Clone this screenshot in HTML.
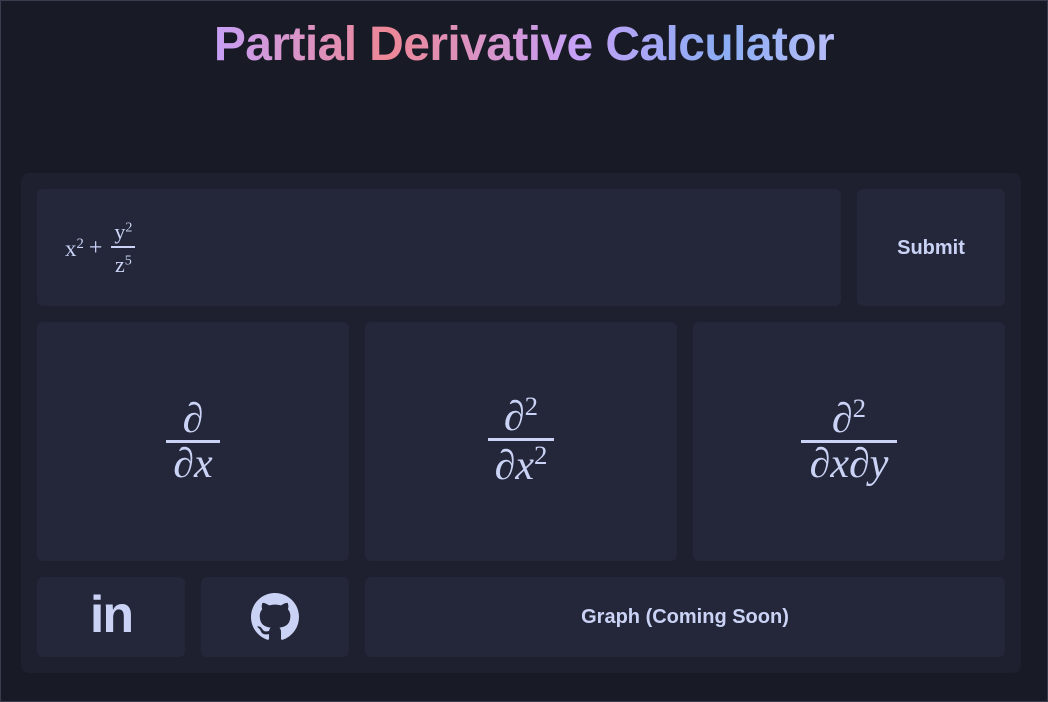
<!DOCTYPE html>
<html><head><meta charset="utf-8"><style>
html,body{margin:0;padding:0}
body{width:1048px;height:702px;background:#181a26;position:relative;overflow:hidden;font-family:"Liberation Sans",sans-serif;color:#cad3f5}
.frame{position:absolute;left:0;top:0;width:1046px;height:700px;border:1px solid #3a3d4d;box-sizing:content-box}
h1{position:absolute;left:0;width:1048px;top:17px;margin:0;text-align:center;font-size:48px;font-weight:bold;line-height:56px;letter-spacing:-0.6px}
h1 span{background:linear-gradient(90deg,#c6a0f6 0%,#ed8796 28%,#c6a0f6 58%,#8aadf4 82%,#b7bdf8 100%);-webkit-background-clip:text;background-clip:text;color:transparent}
.panel{position:absolute;left:21px;top:173px;width:1000px;height:500px;background:#1e2030;border-radius:8px}
.cell{position:absolute;background:#24273a;border-radius:6px;display:flex;align-items:center;justify-content:center}
.m{font-family:"Liberation Serif",serif}
.i{font-style:italic}
.frac{display:inline-flex;flex-direction:column;align-items:center}
.frac .n,.frac .d{padding:0 7px;line-height:1}
.frac .bar{align-self:stretch;height:3px;background:#cad3f5}
sup{font-size:64%;vertical-align:0.55em;line-height:0}
.btn{font-weight:bold;font-size:20px}
</style></head><body>
<div class="frame"></div>
<h1><span>Partial Derivative Calculator</span></h1>
<div class="panel"></div>
<div class="cell" style="left:37px;top:189px;width:804px;height:117px;justify-content:flex-start">
 <div class="m" style="margin-left:28px;font-size:23px;display:flex;align-items:center;margin-top:2px">
  <span>x<sup>2</sup></span><span style="margin:0 9px 0 5px;font-size:24px">+</span>
  <span class="frac" style="font-size:22px"><span class="n" style="padding:0 3px">y<sup>2</sup></span><span class="bar" style="height:1.5px;margin-top:3px"></span><span class="n" style="margin-top:6px;padding:0 3px">z<sup>5</sup></span></span>
 </div>
</div>
<div class="cell btn" style="left:857px;top:189px;width:148px;height:117px"><span style="margin-top:2px">Submit</span></div>
<div class="cell" style="left:37px;top:322px;width:312px;height:239px">
 <span class="frac m i" style="font-size:42px"><span class="n">∂</span><span class="bar"></span><span class="d">∂x</span></span>
</div>
<div class="cell" style="left:365px;top:322px;width:312px;height:239px">
 <span class="frac m i" style="font-size:42px"><span class="n">∂<sup style="font-style:normal">2</sup></span><span class="bar"></span><span class="d" style="margin-top:4px">∂x<sup style="font-style:normal">2</sup></span></span>
</div>
<div class="cell" style="left:693px;top:322px;width:312px;height:239px">
 <span class="frac m i" style="font-size:42px"><span class="n">∂<sup style="font-style:normal">2</sup></span><span class="bar"></span><span class="d" style="padding:0 9px">∂x∂y</span></span>
</div>
<div class="cell" style="left:37px;top:577px;width:148px;height:80px">
 <span style="font-weight:bold;font-size:52px;letter-spacing:-2px;line-height:1;margin-top:-4px">in</span>
</div>
<div class="cell" style="left:201px;top:577px;width:148px;height:80px">
 <svg width="48" height="48" viewBox="0 0 16 16"><path fill="#cad3f5" d="M8 0C3.58 0 0 3.58 0 8c0 3.54 2.29 6.530 5.47 7.59.4.07.55-.17.55-.38 0-.19-.01-.82-.01-1.490-2.010.37-2.530-.49-2.690-.94-.09-.23-.48-.94-.82-1.13-.28-.15-.68-.52-.01-.53.63-.01 1.08.58 1.23.82.72 1.21 1.87.87 2.33.66.07-.52.28-.87.51-1.07-1.78-.2-3.64-.89-3.64-3.95 0-.87.31-1.59.82-2.15-.08-.2-.36-1.02.08-2.12 0 0 .67-.21 2.2.82.64-.18 1.32-.27 2-.27.68 0 1.36.09 2 .27 1.53-1.04 2.2-.82 2.2-.82.44 1.1.16 1.92.08 2.12.51.56.82 1.27.82 2.15 0 3.07-1.87 3.75-3.65 3.95.29.25.54.73.54 1.48 0 1.07-.01 1.93-.01 2.2 0 .21.15.46.55.38A8.013 8.013 0 0016 8c0-4.42-3.58-8-8-8z"/></svg>
</div>
<div class="cell btn" style="left:365px;top:577px;width:640px;height:80px">Graph (Coming Soon)</div>
</body></html>
